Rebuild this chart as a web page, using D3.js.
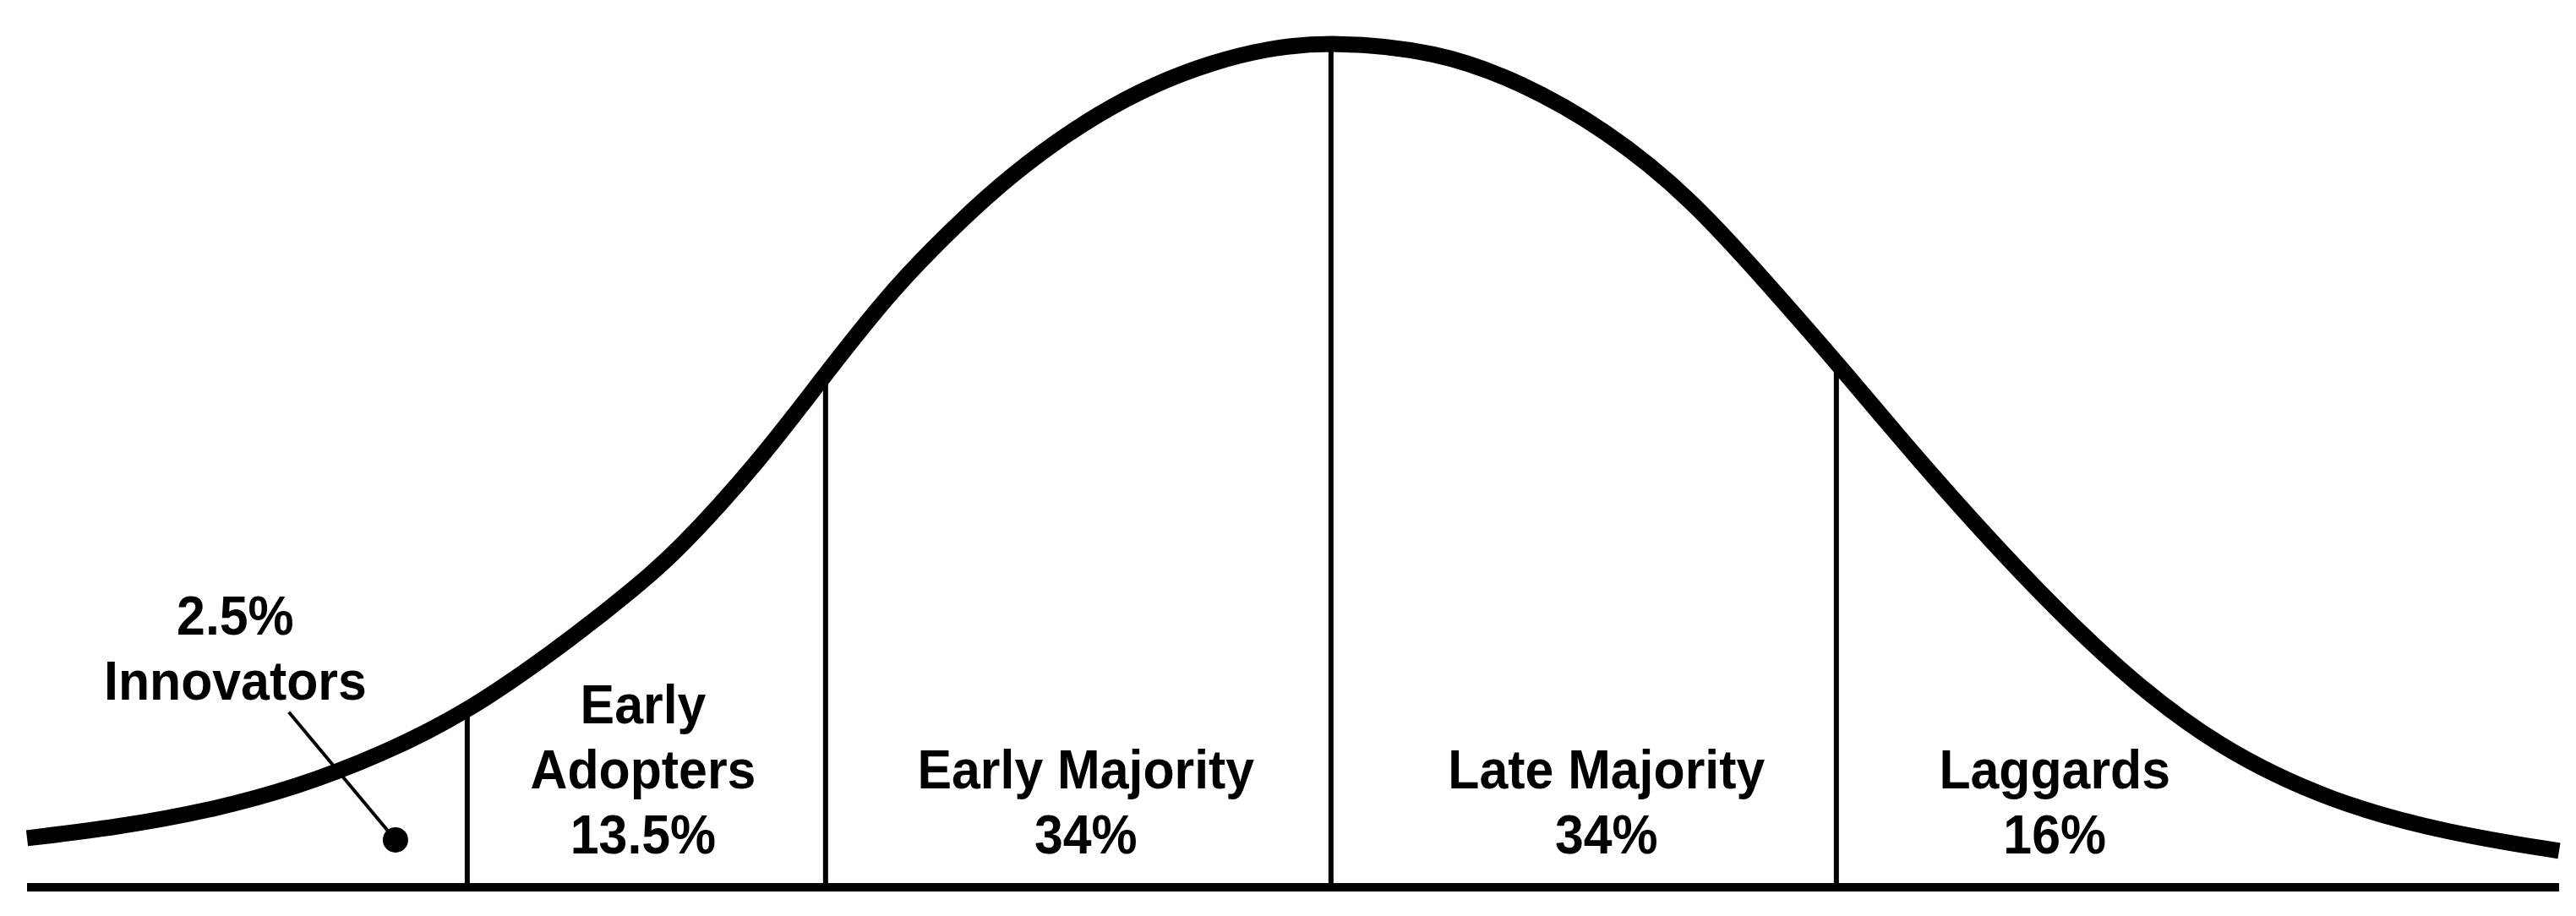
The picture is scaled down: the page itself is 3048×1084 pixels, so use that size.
<!DOCTYPE html>
<html>
<head>
<meta charset="utf-8">
<script src="https://cdn.jsdelivr.net/npm/d3@7"></script>
<style>
  html, body { margin: 0; padding: 0; background: #fff; }
  svg { display: block; }
  text { font-family: "Liberation Sans", Arial, Helvetica, sans-serif; font-weight: bold; fill: #000; }
</style>
</head>
<body>
<svg id="chart" width="3048" height="1084"></svg>
<script>
// ---- data (x in standard deviations from the mean, y as share of peak height) ----
const curveX = [-2.580, -2.400, -2.216, -2.048, -1.881, -1.709, -1.547, -1.463, -1.380, -1.296, -1.129, -1.000, -0.878, -0.794, -0.682, -0.572, -0.460, -0.348, -0.237, -0.125, 0, 0.209, 0.376, 0.543, 0.711, 0.878, 1.000, 1.169, 1.365, 1.560, 1.754, 1.982, 2.211, 2.430];
const curveY = [0.058, 0.071, 0.091, 0.118, 0.156, 0.207, 0.275, 0.313, 0.353, 0.395, 0.505, 0.607, 0.699, 0.752, 0.817, 0.870, 0.915, 0.950, 0.975, 0.992, 1.000, 0.989, 0.952, 0.896, 0.816, 0.704, 0.621, 0.500, 0.370, 0.255, 0.165, 0.100, 0.064, 0.043];

const segments = ["Innovators", "Early Adopters", "Early Majority", "Late Majority", "Laggards"];
const shares   = ["2.5%", "13.5%", "34%", "34%", "16%"];
const boundaryX   = [-1.709, -1.0, 0, 1.0];
const boundaryTop = [0.207, 0.607, 1.0, 0.621];

// label text lines for each segment
const labelLines = [
  [shares[0], "Innovators"],
  ["Early", "Adopters", shares[1]],
  ["Early Majority", shares[2]],
  ["Late Majority", shares[3]],
  ["Laggards", shares[4]]
];

// ---- layout ----
const svg = d3.select("#chart");
const x = d3.scaleLinear().domain([d3.min(curveX), d3.max(curveX)]).range([32, 3028]);
const y = d3.scaleLinear().domain([0, 1]).range([1050, 49]);

// label anchor positions (x in SD units, baseline of the last line in y units)
const labelAnchorX = [-2.168, -1.361, -0.485, 0.545, 1.432];
const labelBottom = [0.222, 0.040, 0.040, 0.040, 0.040];
const lineGap = 77;
const fontSize = 64;
const squeeze = 0.95;

// baseline axis
svg.append("line")
  .attr("x1", x.range()[0]).attr("x2", x.range()[1])
  .attr("y1", y(0)).attr("y2", y(0))
  .attr("stroke", "#000").attr("stroke-width", 10);

// segment boundaries
svg.selectAll("line.boundary")
  .data(boundaryX.map((b, i) => ({ b, top: boundaryTop[i] })))
  .join("line")
  .attr("class", "boundary")
  .attr("x1", d => x(d.b)).attr("x2", d => x(d.b))
  .attr("y1", y(0)).attr("y2", d => y(d.top))
  .attr("stroke", "#000").attr("stroke-width", 6);

// bell curve
const pts = curveX.map((v, i) => [v, curveY[i]]);
svg.append("path")
  .datum(pts)
  .attr("fill", "none")
  .attr("stroke", "#000")
  .attr("stroke-width", 19)
  .attr("stroke-linecap", "butt")
  .attr("stroke-linejoin", "round")
  .attr("d", d3.line().x(d => x(d[0])).y(d => y(d[1])).curve(d3.curveBasis));

// innovators leader line + dot
const leaderFrom = [-2.062, 0.207], leaderTo = [-1.851, 0.056];
svg.append("line")
  .attr("x1", x(leaderFrom[0])).attr("y1", y(leaderFrom[1]))
  .attr("x2", x(leaderTo[0])).attr("y2", y(leaderTo[1]))
  .attr("stroke", "#000").attr("stroke-width", 4);
svg.append("circle")
  .attr("cx", x(leaderTo[0])).attr("cy", y(leaderTo[1]))
  .attr("r", 15).attr("fill", "#000");

// labels
segments.forEach((s, i) => {
  const lines = labelLines[i];
  const cx = x(labelAnchorX[i]);
  const by = y(labelBottom[i]) - (lines.length - 1) * lineGap;
  const g = svg.append("g").attr("transform", `translate(${cx},${by}) scale(${squeeze},1)`);
  const t = g.append("text")
    .attr("text-anchor", "middle")
    .attr("font-size", fontSize)
    .attr("x", 0).attr("y", 0);
  lines.forEach((ln, j) => {
    t.append("tspan")
      .attr("x", 0)
      .attr("dy", j === 0 ? 0 : lineGap)
      .text(ln);
  });
});
</script>
</body>
</html>
